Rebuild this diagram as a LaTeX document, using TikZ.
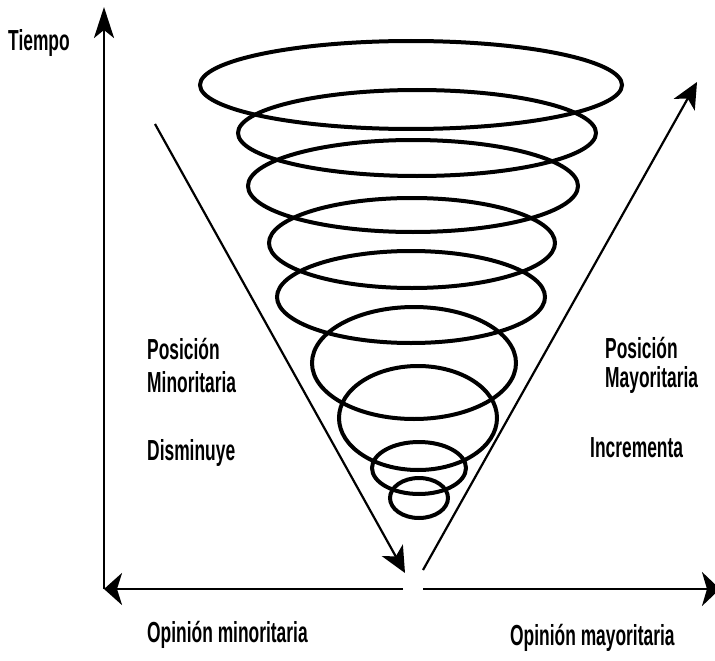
\documentclass[tikz,border=0pt]{standalone}
\usepackage{fontspec}
\setmainfont{Liberation Sans}
\usetikzlibrary{arrows.meta}
\newcommand{\sq}[1]{\scalebox{0.6}[1]{#1}}
\begin{document}
\begin{tikzpicture}[x=1pt,y=-1pt,
  lab/.style={font=\fontsize{29}{31}\selectfont\bfseries, inner sep=0pt, anchor=base west},
  ring/.style={line width=4pt},
  axis/.style={line width=2.8pt},
  diag/.style={line width=2.2pt}]
\useasboundingbox (0,0) rectangle (715,661);
% axes
\coordinate (vb) at (104,589);
\coordinate (vt) at (104,7);
\coordinate (hl) at (104,589);
\coordinate (hlg) at (403,589);
\coordinate (hrg) at (423,589);
\coordinate (hr) at (720,589);
\coordinate (ds) at (155,124);
\coordinate (de) at (405,573);
\coordinate (us) at (423,570);
\coordinate (ue) at (697,82);
\draw[axis,-{Stealth[length=31pt,width=20pt,inset=8pt]}] (vb) -- (vt);
\draw[axis,-{Stealth[length=18pt,width=32pt,inset=5pt]}] (hlg) -- (hl);
\draw[axis,-{Stealth[length=18pt,width=34pt,inset=5pt]}] (hrg) -- (hr);
\draw[diag,-{Stealth[length=26pt,width=24pt,inset=7pt]}] (ds) -- (de);
\draw[diag,-{Stealth[length=26pt,width=24pt,inset=7pt]}] (us) -- (ue);
% spiral rings
\coordinate (e1) at (411,85);
\coordinate (e2) at (417,133);
\coordinate (e3) at (413,186);
\coordinate (e4) at (412,243);
\coordinate (e5) at (411,297);
\coordinate (e6) at (414,363);
\coordinate (e7) at (418,418);
\coordinate (e8) at (419,468);
\coordinate (e9) at (419,498);
\draw[ring] (e1) ellipse [x radius=211pt, y radius=44pt];
\draw[ring] (e2) ellipse [x radius=179pt, y radius=43pt];
\draw[ring] (e3) ellipse [x radius=165pt, y radius=46pt];
\draw[ring] (e4) ellipse [x radius=143pt, y radius=45pt];
\draw[ring] (e5) ellipse [x radius=134pt, y radius=46pt];
\draw[ring] (e6) ellipse [x radius=102pt, y radius=56pt];
\draw[ring] (e7) ellipse [x radius=79pt, y radius=52pt];
\draw[ring] (e8) ellipse [x radius=47pt, y radius=26pt];
\draw[ring] (e9) ellipse [x radius=29pt, y radius=20pt];
% labels
\node[lab] (tiempo) at (8,51) {\sq{Tiempo}};
\node[lab] (pos1) at (147,359) {\sq{Posición}};
\node[lab] (min) at (147,392) {\sq{Minoritaria}};
\node[lab] (dis) at (147,460) {\sq{Disminuye}};
\node[lab] (pos2) at (605,358) {\sq{Posición}};
\node[lab] (may) at (605,387) {\sq{Mayoritaria}};
\node[lab] (inc) at (590,457) {\sq{Incrementa}};
\node[lab] (omin) at (147,642) {\sq{Opinión minoritaria}};
\node[lab] (omay) at (510,645) {\sq{Opinión mayoritaria}};
\end{tikzpicture}
\end{document}
